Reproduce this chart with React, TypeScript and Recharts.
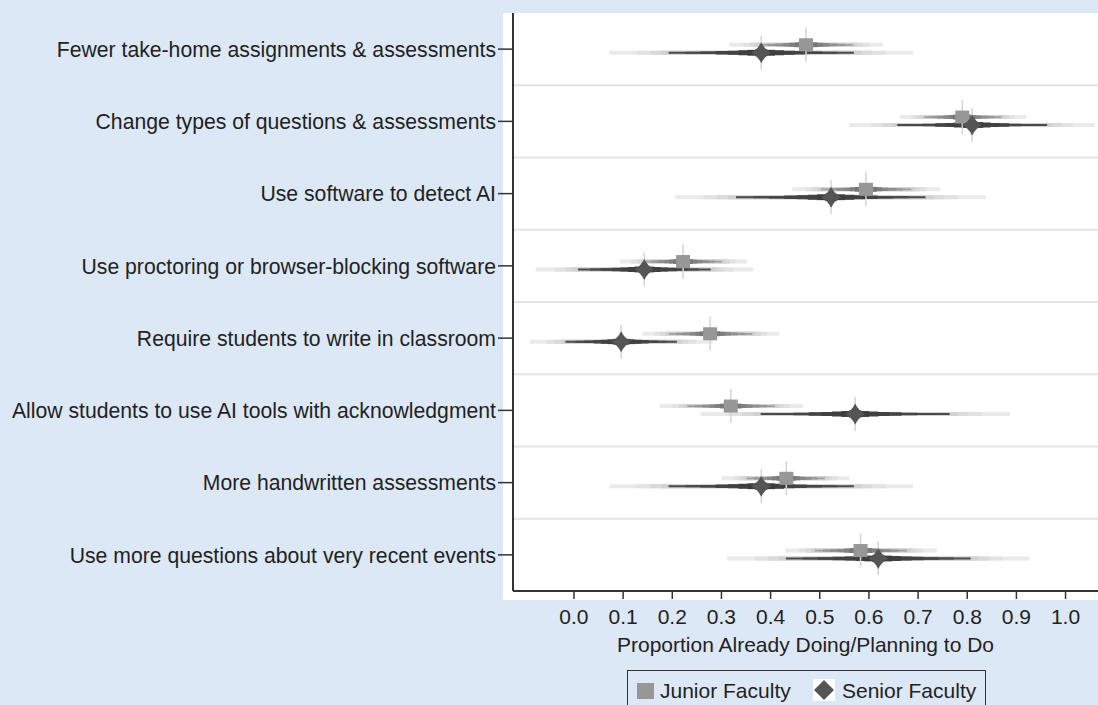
import React from 'react';
import { ScatterChart, Scatter, XAxis, YAxis, ErrorBar, ReferenceLine, Label } from 'recharts';

const categories = [
  'Fewer take-home assignments & assessments',
  'Change types of questions & assessments',
  'Use software to detect AI',
  'Use proctoring or browser-blocking software',
  'Require students to write in classroom',
  'Allow students to use AI tools with acknowledgment',
  'More handwritten assessments',
  'Use more questions about very recent events',
];

const juniorMean = [0.472, 0.79, 0.594, 0.222, 0.277, 0.319, 0.432, 0.583];
const juniorLow = [0.316, 0.663, 0.444, 0.093, 0.139, 0.174, 0.3, 0.43];
const juniorHigh = [0.629, 0.92, 0.745, 0.352, 0.418, 0.466, 0.56, 0.738];

const seniorMean = [0.381, 0.81, 0.523, 0.143, 0.096, 0.572, 0.381, 0.619];
const seniorLow = [0.072, 0.56, 0.206, -0.078, -0.09, 0.257, 0.072, 0.311];
const seniorHigh = [0.69, 1.06, 0.838, 0.365, 0.282, 0.887, 0.69, 0.927];

const xTicks = [0, 0.1, 0.2, 0.3, 0.4, 0.5, 0.6, 0.7, 0.8, 0.9, 1.0];

const FONT = '"Liberation Sans", Arial, Helvetica, sans-serif';
const BLUE = '#dde8f6';

// share of the outer interval, stroke width, colour index (light bands use fixed colours)
const levels: { r: number; w: number; light?: string; t?: number }[] = [
  { r: 1, w: 4, light: '#eaeaea' },
  { r: 0.82, w: 4, light: '#e2e2e2' },
  { r: 0.73, w: 4, light: '#dadada' },
  { r: 0.66, w: 4, light: '#d2d2d2' },
  { r: 0.61, w: 1.8, t: 0 },
  { r: 0.5, w: 2.2, t: 0.15 },
  { r: 0.4, w: 2.7, t: 0.3 },
  { r: 0.3, w: 3.3, t: 0.45 },
  { r: 0.22, w: 4, t: 0.6 },
  { r: 0.15, w: 4.8, t: 0.75 },
  { r: 0.09, w: 5.8, t: 0.9 },
  { r: 0.04, w: 7, t: 1 },
];

const mix = (a: number, b: number, t: number) => {
  const v = Math.round(a + (b - a) * t);
  const h = v.toString(16).padStart(2, '0');
  return `#${h}${h}${h}`;
};

const buildRows = (mean: number[], low: number[], high: number[], shift: number) =>
  categories.map((_, i) => {
    const row: any = { x: mean[i], y: i + 1 + shift };
    levels.forEach((l, k) => {
      row['e' + k] = [(mean[i] - low[i]) * l.r, (high[i] - mean[i]) * l.r];
    });
    return row;
  });

const juniorData = buildRows(juniorMean, juniorLow, juniorHigh, -0.06);
const seniorData = buildRows(seniorMean, seniorLow, seniorHigh, 0.05);
const separators = categories.slice(1).map((_, i) => i + 1.5);

const JuniorShape = (props: any) => {
  const { cx, cy } = props;
  if (cx == null || cy == null) return null;
  return (
    <g>
      <line x1={cx} x2={cx} y1={cy - 17} y2={cy + 17} stroke="#d4d4d4" strokeWidth={1.5} />
      <rect x={cx - 7} y={cy - 6.5} width={14} height={13} fill="#979797" />
    </g>
  );
};

const SeniorShape = (props: any) => {
  const { cx, cy } = props;
  if (cx == null || cy == null) return null;
  const h = 10.5;
  const w = 10;
  const c = 3.4;
  const d = `M ${cx} ${cy - h} Q ${cx + c} ${cy - c} ${cx + w} ${cy} Q ${cx + c} ${cy + c} ${cx} ${cy + h} Q ${cx - c} ${cy + c} ${cx - w} ${cy} Q ${cx - c} ${cy - c} ${cx} ${cy - h} Z`;
  return (
    <g>
      <line x1={cx} x2={cx} y1={cy - 17} y2={cy + 17} stroke="#d4d4d4" strokeWidth={1.5} />
      <path d={d} fill="#555555" />
    </g>
  );
};

const YTick = (props: any) => {
  const { x, y, payload } = props;
  return (
    <text x={x} y={y} dy="0.36em" textAnchor="end" fontSize={21.2} fontFamily={FONT} fill="#222">
      {categories[Math.round(payload.value) - 1]}
    </text>
  );
};

const XTick = (props: any) => {
  const { x, y, payload } = props;
  return (
    <text x={x} y={y} dy="0.71em" textAnchor="middle" fontSize={21} fontFamily={FONT} fill="#222">
      {Number(payload.value).toFixed(1)}
    </text>
  );
};

const renderBars = (outer: number, inner: number) =>
  levels.map((l, k) => (
    <ErrorBar
      key={k}
      dataKey={'e' + k}
      direction="x"
      width={0}
      stroke={l.light ?? mix(outer, inner, l.t ?? 0)}
      strokeWidth={l.w}
      isAnimationActive={false}
    />
  ));

export default function App() {
  return (
    <div style={{ position: 'absolute', left: 0, top: 0, width: 1098, height: 705, background: BLUE, overflow: 'hidden' }}>
      <div style={{ position: 'absolute', left: 503, top: 13, width: 595, height: 587, background: '#ffffff' }} />
      <div style={{ position: 'absolute', left: 0, top: 0 }}>
        <ScatterChart width={1098} height={705} margin={{ top: 13, right: 0, bottom: 0, left: 0 }}>
          <XAxis
            type="number"
            dataKey="x"
            domain={[-0.124, 1.066]}
            ticks={xTicks}
            allowDataOverflow
            height={114}
            tickSize={8}
            tickMargin={10}
            tick={<XTick />}
            axisLine={{ stroke: '#333', strokeWidth: 2 }}
            tickLine={{ stroke: '#333', strokeWidth: 1.5 }}
          >
            <Label
              value="Proportion Already Doing/Planning to Do"
              position="insideTop"
              offset={46}
              style={{ fontSize: 21, fontFamily: FONT, fill: '#222' }}
            />
          </XAxis>
          <YAxis
            type="number"
            dataKey="y"
            domain={[0.5, 8.5]}
            reversed
            allowDataOverflow
            ticks={[1, 2, 3, 4, 5, 6, 7, 8]}
            interval={0}
            width={513}
            tickSize={15}
            tickMargin={2}
            tick={<YTick />}
            axisLine={{ stroke: '#333', strokeWidth: 2 }}
            tickLine={{ stroke: '#333', strokeWidth: 1.5 }}
          />
          {separators.map((s) => (
            <ReferenceLine key={s} y={s} stroke="#e4e4e4" strokeWidth={2} />
          ))}
          <Scatter data={juniorData} fill="#979797" shape={<JuniorShape />} isAnimationActive={false}>
            {renderBars(0xa0, 0x6a)}
          </Scatter>
          <Scatter data={seniorData} fill="#555555" shape={<SeniorShape />} isAnimationActive={false}>
            {renderBars(0x4a, 0x3c)}
          </Scatter>
        </ScatterChart>
      </div>
      <div
        style={{
          position: 'absolute',
          left: 627,
          top: 670,
          width: 359,
          height: 50,
          border: '1px solid #333',
          boxSizing: 'border-box',
          fontFamily: FONT,
          fontSize: 21,
          color: '#222',
        }}
      >
        <div style={{ position: 'absolute', left: 9, top: 12, width: 17, height: 16, background: '#979797' }} />
        <div style={{ position: 'absolute', left: 32, top: 8, lineHeight: '24px' }}>Junior Faculty</div>
        <div style={{ position: 'absolute', left: 185, top: 8, width: 22, height: 22, background: '#fff' }}>
          <svg width={22} height={22}>
            <path d="M 11 1 L 21 11 L 11 21 L 1 11 Z" fill="#555" />
          </svg>
        </div>
        <div style={{ position: 'absolute', left: 214, top: 8, lineHeight: '24px' }}>Senior Faculty</div>
      </div>
    </div>
  );
}
